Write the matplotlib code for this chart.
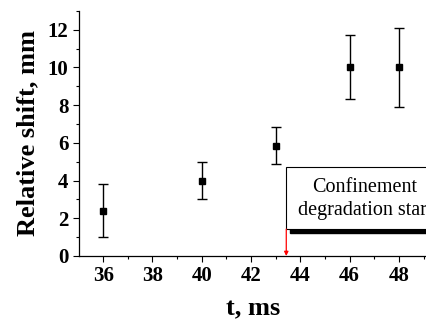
import numpy as np
import matplotlib
matplotlib.use("Agg")
import matplotlib.pyplot as plt
from matplotlib.patches import Rectangle
from matplotlib.ticker import MultipleLocator

t = [36, 40, 43, 46, 48]
shift = [2.4, 4.0, 5.84, 10.02, 10.0]
err = [1.4, 0.97, 0.98, 1.7, 2.1]
t_start = 43.43

plt.rcParams['font.family'] = ['Liberation Serif', 'DejaVu Serif']

fig = plt.figure(figsize=(4.27, 3.22), dpi=100)
ax = fig.add_axes([0.185, 0.205, 0.815, 0.761])

ax.errorbar(t, shift, yerr=err, fmt='s', color='black', ms=4.5,
            capsize=3.5, elinewidth=1, capthick=1)

# annotation box with shadow
ax.add_patch(Rectangle((t_start + 0.17, 1.22), 8, 3.3, facecolor='black',
                       edgecolor='black', zorder=3))
ax.add_patch(Rectangle((t_start, 1.43), 8, 3.3, facecolor='white',
                       edgecolor='black', lw=0.8, zorder=4))
ax.text(46.62, 3.02, 'Confinement\ndegradation start', ha='center',
        va='center', fontsize=14.5, zorder=5, linespacing=1.3)
ax.annotate('', xy=(t_start, 0), xytext=(t_start, 1.43),
            arrowprops=dict(arrowstyle='-|>', color='red', lw=0.9,
                            mutation_scale=6, shrinkA=0, shrinkB=0),
            zorder=5)

ax.set_xlim(35.02, 49.14)
ax.set_ylim(0, 13)
ax.xaxis.set_major_locator(MultipleLocator(2))
ax.xaxis.set_minor_locator(MultipleLocator(1))
ax.yaxis.set_major_locator(MultipleLocator(2))
ax.yaxis.set_minor_locator(MultipleLocator(1))
ax.spines['top'].set_visible(False)
ax.spines['right'].set_visible(False)
for s in ['left', 'bottom']:
    ax.spines[s].set_linewidth(0.9)
ax.tick_params(which='major', direction='out', length=4, width=0.8,
               labelsize=15)
ax.tick_params(which='minor', direction='out', length=2.5, width=0.8)
for lab in ax.get_xticklabels() + ax.get_yticklabels():
    lab.set_fontweight('bold')

ax.set_xlabel('t, ms', fontsize=19, fontweight='bold', labelpad=8)
ax.set_ylabel('Relative shift, mm', fontsize=19, fontweight='bold',
              labelpad=6)

fig.savefig('out.png', dpi=100)
